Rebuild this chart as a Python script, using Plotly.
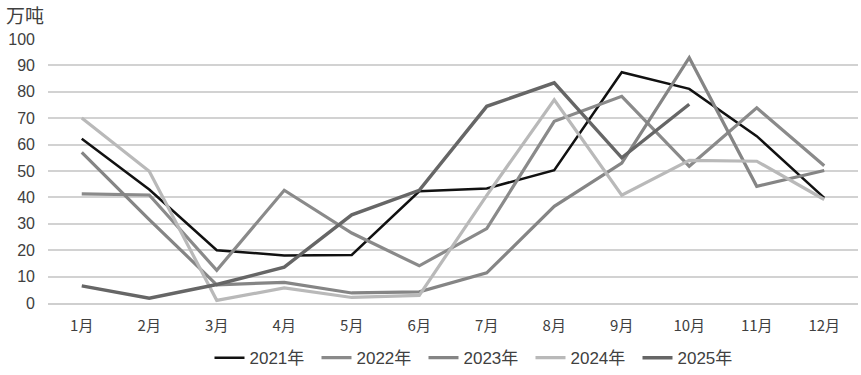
import plotly.graph_objects as go

months = ["1月", "2月", "3月", "4月", "5月", "6月", "7月", "8月", "9月", "10月", "11月", "12月"]
y2021 = [62.2, 43.0, 20.0, 18.0, 18.2, 42.3, 43.4, 50.3, 87.4, 81.1, 63.2, 39.8]
y2022 = [41.3, 40.9, 12.4, 42.7, 26.5, 14.1, 28.2, 68.8, 78.3, 51.8, 73.9, 52.0]
y2023 = [57.1, 31.6, 6.9, 7.8, 3.8, 4.2, 11.4, 36.6, 53.0, 92.9, 44.2, 50.2]
y2024 = [70.1, 49.9, 1.0, 5.7, 2.1, 2.9, 40.8, 77.0, 40.8, 54.0, 53.7, 39.2]
y2025 = [6.5, 1.8, 7.0, 13.6, 33.4, 42.7, 74.5, 83.4, 55.0, 75.3]

series = [
    ("2021年", y2021, "#111111", 2.5),
    ("2022年", y2022, "#8a8a8a", 3.2),
    ("2023年", y2023, "#858585", 3.2),
    ("2024年", y2024, "#b9b9b9", 3.2),
    ("2025年", y2025, "#666666", 3.4),
]

fig = go.Figure()
for name, vals, color, w in series:
    fig.add_trace(go.Scatter(
        x=months[:len(vals)], y=vals, name=name, mode="lines",
        line=dict(color=color, width=w),
    ))

fig.update_layout(
    width=861, height=375,
    margin=dict(l=48, r=3, t=39, b=72, autoexpand=False),
    paper_bgcolor="white", plot_bgcolor="white",
    font=dict(family="Liberation Sans, Noto Sans CJK SC", color="#404040", size=16),
    showlegend=True,
    legend=dict(orientation="h", x=0.554, xanchor="center", xref="container",
                y=0.045, yanchor="middle", yref="container",
                font=dict(size=17, color="#404040"),
                entrywidth=62, entrywidthmode="pixels", itemwidth=30,
                tracegroupgap=0),
    title=dict(text="万吨", x=6/861, xanchor="left", xref="container",
               y=1 - 16/375, yanchor="middle", yref="container",
               font=dict(size=19, family="Noto Sans CJK SC", color="#404040")),
    xaxis=dict(type="category", range=[-0.5, 11.5], showgrid=False,
               showline=True, linecolor="#cfcfcf", linewidth=1.5,
               ticks="", tickfont=dict(size=15, family="Noto Sans CJK SC, Liberation Sans"),
               ticklabelstandoff=8),
    yaxis=dict(range=[0, 100], dtick=10, showgrid=True, gridcolor="#d2d2d2",
               gridwidth=1.5, zeroline=False, showline=False, ticks="",
               tickfont=dict(size=16), ticklabelstandoff=12),
)

fig.write_html("out.html", config={"displayModeBar": False},
               post_script="document.body.style.margin='0';document.body.style.overflow='hidden';")
